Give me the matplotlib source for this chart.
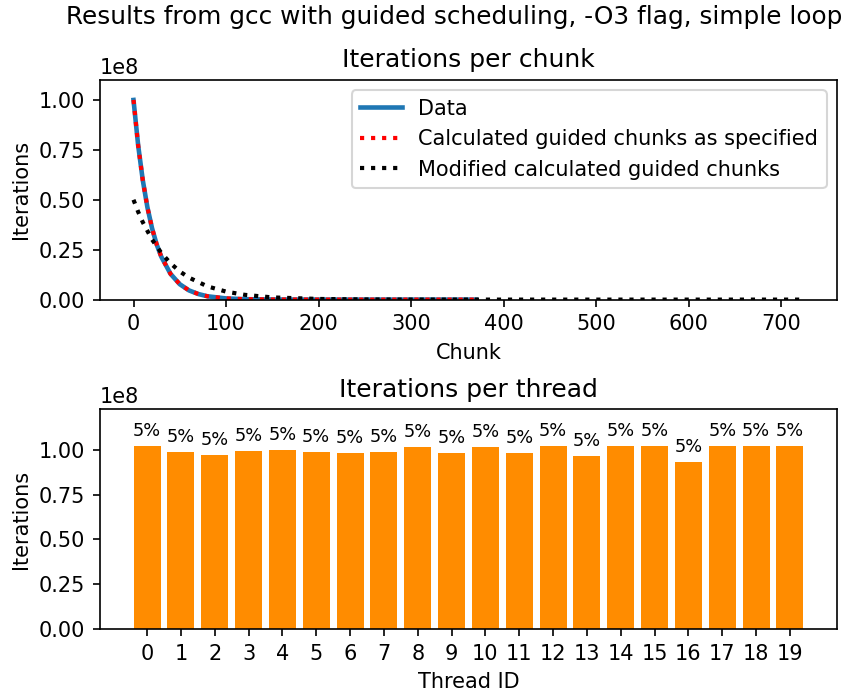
import numpy as np
import matplotlib.pyplot as plt

# chunk sizes (units of 1e8 iterations)
data_chunk = [0, 5, 10, 15, 20, 25, 30, 40, 50, 60, 70, 80, 100, 120, 150, 200, 250, 300, 370]
data_iters = [1.0, 0.774, 0.599, 0.463, 0.358, 0.277, 0.215, 0.129, 0.077, 0.046, 0.028,
              0.0165, 0.0059, 0.0021, 0.0005, 0.00003, 0.0, 0.0, 0.0]

calc_chunk = data_chunk
calc_iters = data_iters

mod_chunk = [0, 5, 10, 20, 30, 40, 50, 60, 80, 100, 120, 150, 200, 250, 300, 400, 500, 600, 724]
mod_iters = [0.5, 0.440, 0.388, 0.301, 0.234, 0.182, 0.141, 0.110, 0.066, 0.040, 0.024,
             0.011, 0.0032, 0.0009, 0.0003, 0.0, 0.0, 0.0, 0.0]

thread_ids = list(range(20))
thread_iters = [1.022, 0.989, 0.972, 0.994, 1.0, 0.989, 0.983, 0.989, 1.017, 0.983,
                1.017, 0.983, 1.022, 0.966, 1.022, 1.022, 0.933, 1.022, 1.022, 1.022]

fig, (ax1, ax2) = plt.subplots(2, 1, figsize=(846 / 150, 695 / 150), dpi=150)

ax1.plot(data_chunk, np.array(data_iters) * 1e8, color='tab:blue', lw=2.2, label='Data')
ax1.plot(calc_chunk, np.array(calc_iters) * 1e8, 'r:', lw=2, label='Calculated guided chunks as specified')
ax1.plot(mod_chunk, np.array(mod_iters) * 1e8, 'k:', lw=2, label='Modified calculated guided chunks')
ax1.set_ylim(0, 1.1e8)
ax1.set_title('Iterations per chunk')
ax1.set_xlabel('Chunk')
ax1.set_ylabel('Iterations')
ax1.legend()

vals = np.array(thread_iters) * 1e8
bars = ax2.bar(thread_ids, vals, color='darkorange')
ax2.bar_label(bars, labels=[f'{v / vals.sum() * 100:.0f}%' for v in vals], fontsize=8.5, padding=3)
ax2.set_ylim(0, vals.max() * 1.2)
ax2.set_xticks(thread_ids)
ax2.set_title('Iterations per thread')
ax2.set_xlabel('Thread ID')
ax2.set_ylabel('Iterations')

fig.subplots_adjust(left=100 / 846, right=837 / 846, top=1 - 80 / 695, bottom=1 - 629 / 695, hspace=0.5)
fig.suptitle('Results from gcc with guided scheduling, -O3 flag, simple loop',
             x=0.537, y=0.993, va='top', fontsize=11.9)
fig.savefig('out.png')
